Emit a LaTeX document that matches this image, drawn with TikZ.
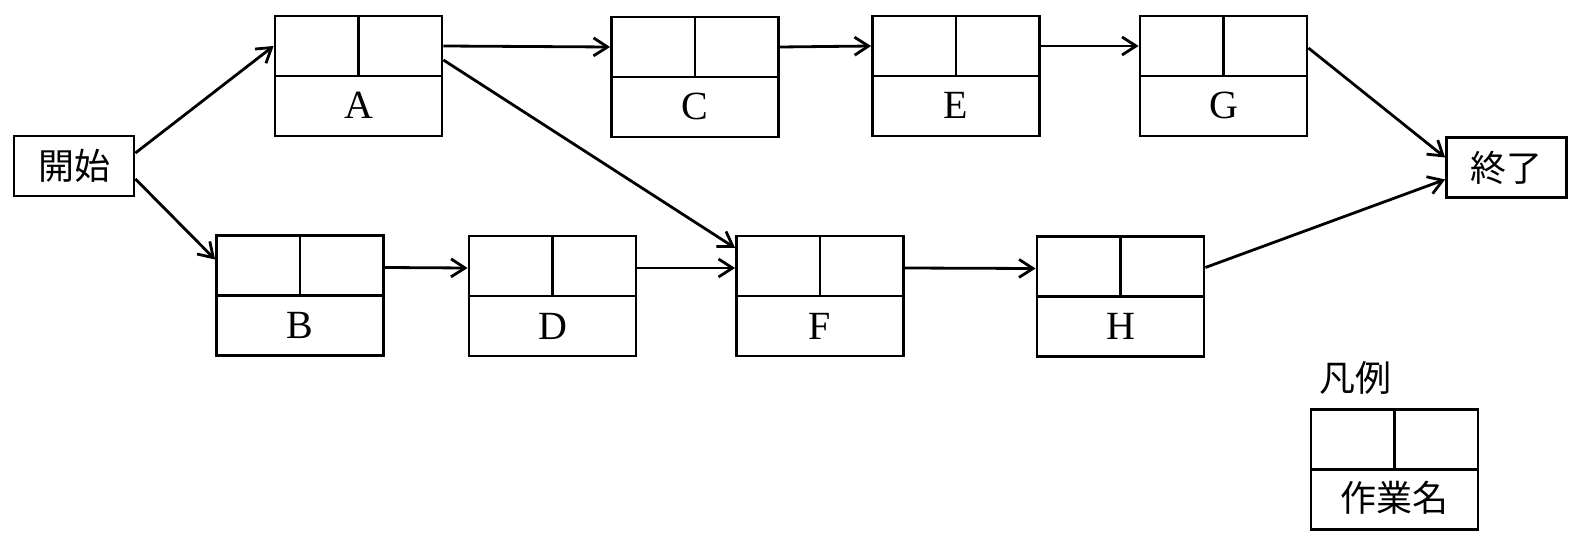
\documentclass[tikz,border=0pt]{standalone}
\usepackage{fontspec}
\setmainfont{Liberation Serif}
\newfontfamily\jp{Noto Sans CJK JP}
\usepackage{tikz}
\usetikzlibrary{arrows.meta}

\begin{document}
\begin{tikzpicture}[x=0.5pt,y=-0.5pt,>={Straight Barb[length=7pt,width=9pt,line width=1.4pt]},
    every path/.style={line width=1.4pt},
    endbox/.style={draw,minimum width=60pt,minimum height=30pt,inner sep=0pt,font=\jp\fontsize{18}{18}\selectfont},
    task/.style={draw,minimum width=83.5pt,minimum height=60pt,inner sep=0pt,
        text height=43pt,text depth=0pt,font=\fontsize{20}{20}\selectfont,
        path picture={\draw (path picture bounding box.west) -- (path picture bounding box.east)
            (path picture bounding box.north) -- (path picture bounding box.center);}}]
          \useasboundingbox (0, 0) rectangle (1578, 545);
          % start and end
          \node[endbox] (start) at (74, 166) {開始};
          \node[endbox] (finish) at (1506.5, 167.5) {終了};
          % tasks, top row
          \node[task] (A) at (358.5, 76) {A};
          \node[task] (C) at (695, 77) {C};
          \node[task] (E) at (956, 76) {E};
          \node[task] (G) at (1223.5, 76) {G};
          % tasks, bottom row
          \node[task] (B) at (300, 295.5) {B};
          \node[task] (D) at (552.5, 296) {D};
          \node[task] (F) at (820, 296) {F};
          \node[task] (H) at (1120.5, 296.5) {H};
          % legend
          \node[font=\jp\fontsize{18}{18}\selectfont] (legendtitle) at (1355, 378) {凡例};
          \node[task,text height=42pt,font=\jp\fontsize{18}{18}\selectfont] (legend) at (1394.5, 469.5) {作業名};
          % arrows
          \draw[->] ([yshift=6.5pt]start.east) -- ([yshift=15pt]A.west);
          \draw[->] ([yshift=-6.5pt]start.east) -- ([yshift=18pt]B.west);
          \draw[->] ([yshift=15pt]A.east) -- ([yshift=15pt]C.west);
          \draw[->] ([yshift=8pt]A.east) -- ([yshift=24pt]F.west);
          \draw[->] ([yshift=15pt]C.east) -- ([yshift=15pt]E.west);
          \draw[->] ([yshift=15pt]E.east) -- ([yshift=15pt]G.west);
          \draw[->] ([yshift=14pt]G.east) -- ([yshift=5pt]finish.west);
          \draw[->] ([yshift=14pt]B.east) -- ([yshift=14pt]D.west);
          \draw[->] ([yshift=14pt]D.east) -- ([yshift=14pt]F.west);
          \draw[->] ([yshift=14pt]F.east) -- ([yshift=14pt]H.west);
          \draw[->] ([yshift=14.5pt]H.east) -- ([yshift=-6pt]finish.west);
        \end{tikzpicture}
\end{document}
